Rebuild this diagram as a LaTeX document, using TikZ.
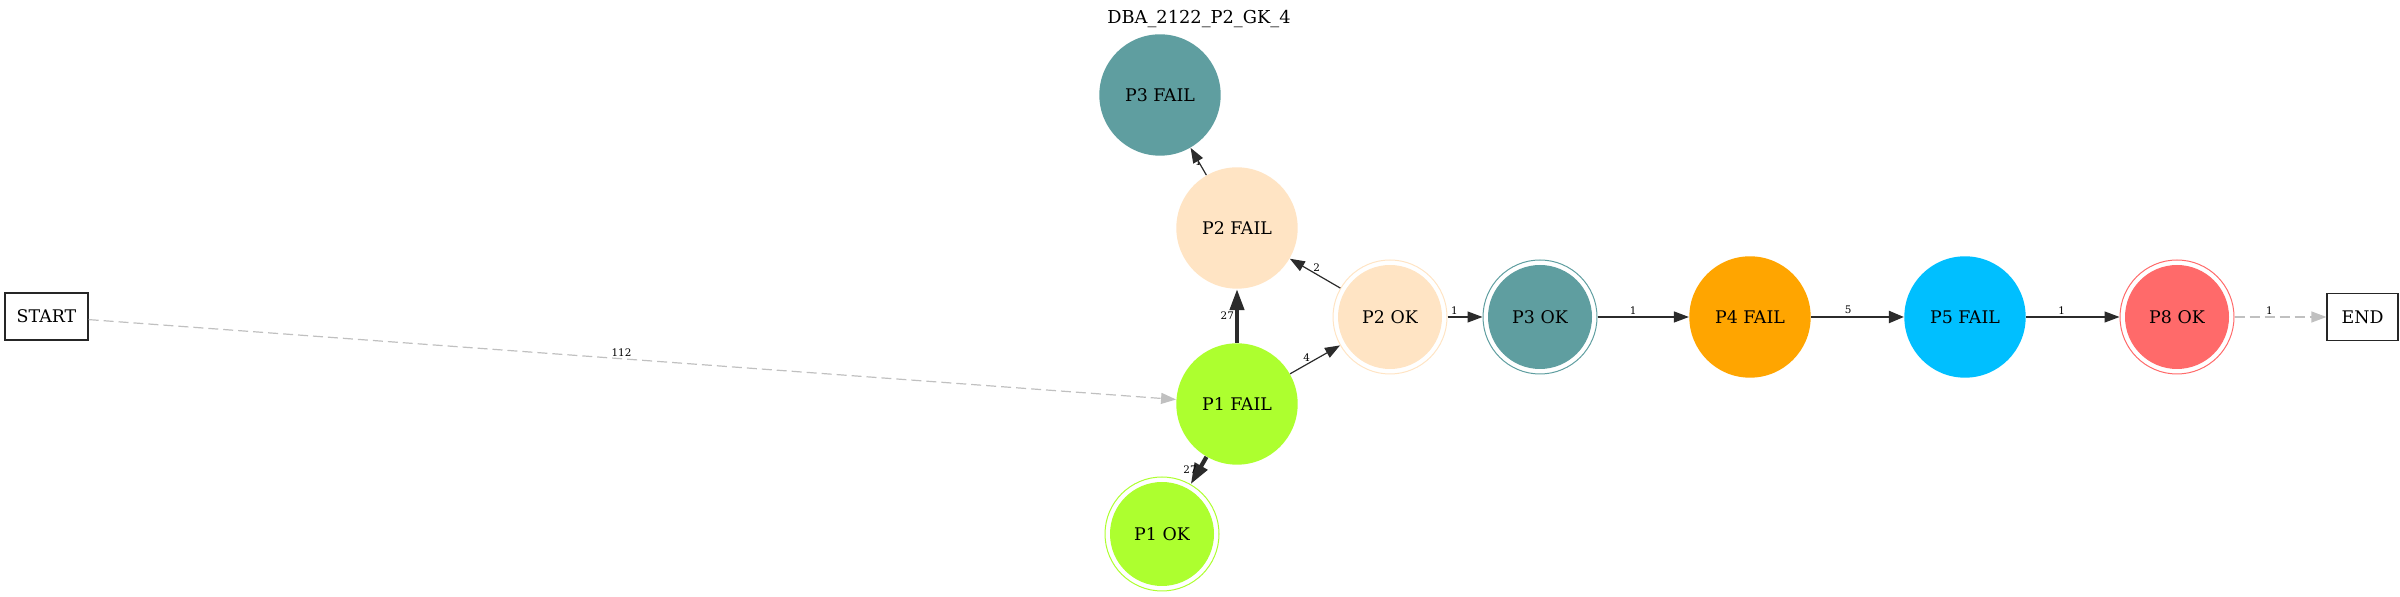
\documentclass[tikz,border=0pt]{standalone}
\usepackage{fontspec}
\setmainfont{DejaVu Serif}
\usetikzlibrary{shapes.geometric,arrows.meta}
\definecolor{cadet}{HTML}{5F9EA0}
\definecolor{bisq}{HTML}{FFE4C4}
\definecolor{gy}{HTML}{ADFF2F}
\definecolor{orng}{HTML}{FFA500}
\definecolor{dsb}{HTML}{00BFFF}
\definecolor{ired}{HTML}{FF6A6A}
\definecolor{edgec}{HTML}{2B2B2B}
\definecolor{dashc}{HTML}{C0C0C0}
\begin{document}
\begin{tikzpicture}[x=0.5pt,y=-0.5pt,
  nfont/.style={font=\fontsize{8.7}{10}\selectfont},
  state/.style={circle, fill=#1, inner sep=0pt, minimum size=60.7pt, nfont},
  ring/.style={circle, draw=#1, line width=0.5pt, inner sep=0pt, minimum size=57pt},
  innerc/.style={circle, fill=#1, inner sep=0pt, minimum size=52pt, nfont},
  term/.style={rectangle, draw=black!85, line width=0.6pt, inner sep=0pt, nfont},
  edge/.style={draw=edgec, line width=0.6pt, -{Triangle[length=7.5pt,width=5.5pt]}},
  midedge/.style={draw=edgec, line width=1.1pt, -{Triangle[length=7.5pt,width=6pt]}},
  heavyedge/.style={draw=edgec, line width=2.1pt, -{Triangle[length=10.5pt,width=7pt]}},
  dashedge/.style={draw=dashc, line width=0.6pt, dash pattern=on 5pt off 2.5pt, -{Triangle[length=7.5pt,width=5.5pt]}},
  elabel/.style={font=\fontsize{5.2}{5.5}\selectfont, inner sep=1pt, text=black}
]
\useasboundingbox (0,0) rectangle (2400,597);

\node[font=\fontsize{8.9}{10}\selectfont] (title) at (1199,19) {DBA\_2122\_P2\_GK\_4};

\node[term, minimum width=41.5pt, minimum height=23.5pt] (start) at (46.5,316.5) {START};
\node[term, minimum width=35.5pt, minimum height=23.5pt] (end) at (2362.5,317) {END};

\node[state=cadet] (p3fail) at (1160,95) {P3 FAIL};
\node[state=bisq] (p2fail) at (1237,228) {P2 FAIL};
\node[state=gy] (p1fail) at (1237,404) {P1 FAIL};

\node[innerc=gy] (p1okin) at (1162,534) {P1 OK};
\node[ring=gy] (p1ok) at (1162,534) {};

\node[innerc=bisq] (p2okin) at (1390,317) {P2 OK};
\node[ring=bisq] (p2ok) at (1390,317) {};

\node[innerc=cadet] (p3okin) at (1540,317) {P3 OK};
\node[ring=cadet] (p3ok) at (1540,317) {};

\node[state=orng] (p4fail) at (1750,317) {P4 FAIL};
\node[state=dsb] (p5fail) at (1965,317) {P5 FAIL};

\node[innerc=ired] (p8okin) at (2177,317) {P8 OK};
\node[ring=ired] (p8ok) at (2177,317) {};

% edges
\draw[dashedge] (start) -- node[elabel, pos=0.49, above] {112} (p1fail);
\draw[heavyedge] (p1fail) -- node[elabel, pos=0.5, left, inner sep=0.5pt] {27} (p2fail);
\draw[heavyedge] (p1fail) -- node[elabel, pos=0.45, left, inner sep=0.3pt] {27} (p1ok);
\draw[edge] (p1fail) -- node[elabel, pos=0.33, above] {4} (p2ok);
\draw[edge] (p2ok) -- node[elabel, pos=0.47, above] {2} (p2fail);
\path (p2fail) -- node[elabel, pos=0.5] {1} (p3fail);
\draw[edge] (p2fail) -- (p3fail);
\draw[edge] (p2ok) -- node[elabel, pos=0.2, above] {1} (p3ok);
\draw[edge] (p3ok) -- node[elabel, pos=0.39, above] {1} (p4fail);
\draw[midedge] (p4fail) -- node[elabel, pos=0.4, above] {5} (p5fail);
\draw[edge] (p5fail) -- node[elabel, pos=0.38, above] {1} (p8ok);
\draw[dashedge] (p8ok) -- node[elabel, pos=0.38, above] {1} (end);
\end{tikzpicture}
\end{document}
